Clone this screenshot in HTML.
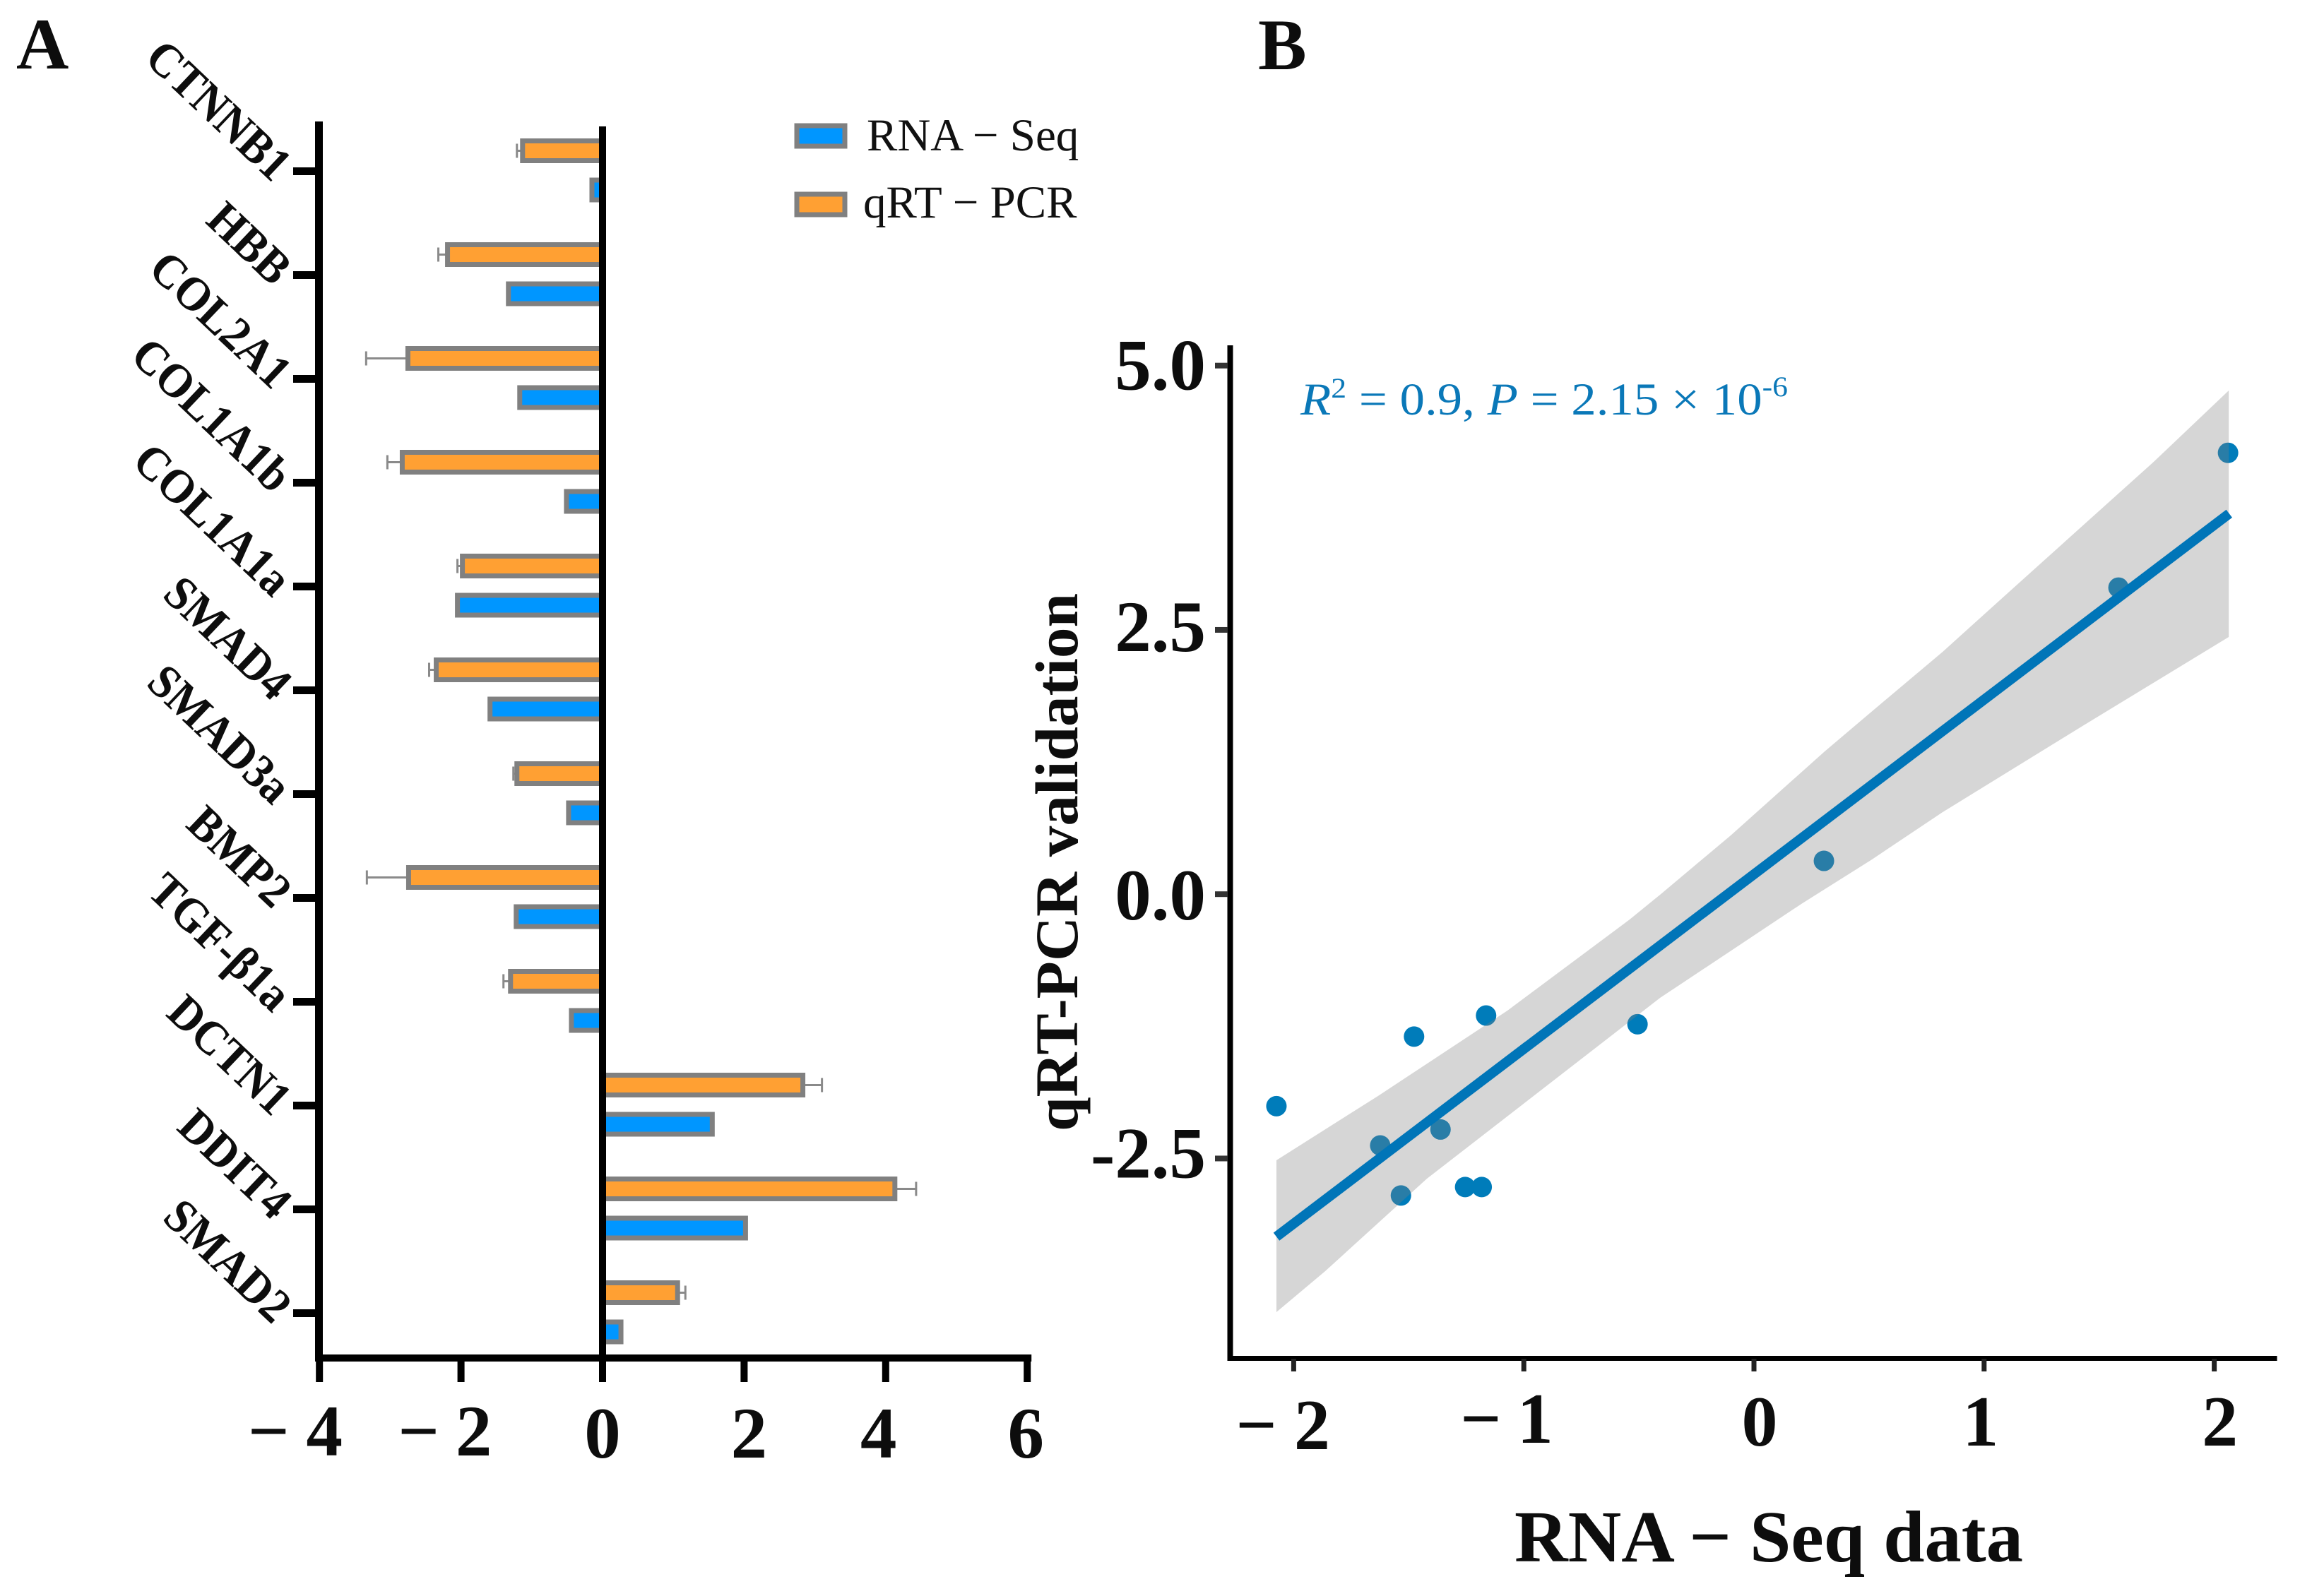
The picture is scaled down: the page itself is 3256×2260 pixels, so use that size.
<!DOCTYPE html>
<html lang="en">
<head>
<meta charset="utf-8">
<title>RNA-Seq and qRT-PCR validation</title>
<style>
html,body{margin:0;padding:0;background:#fff;width:3256px;height:2260px;overflow:hidden}
svg{display:block}
text{font-family:"Liberation Serif",serif}
.b{font-weight:700;fill:#0d0d0d}
</style>
</head>
<body>
<svg id="figure" xmlns="http://www.w3.org/2000/svg" width="3256" height="2260" viewBox="0 0 3256 2260">
  <rect width="3256" height="2260" fill="#fff"/>
  <text class="b" x="23" y="97" font-size="103">A</text>
  <text class="b" x="1781" y="98" font-size="103">B</text>

  <g>
    <rect x="1128" y="178" width="68" height="29" fill="#0096ff" stroke="#808080" stroke-width="7"/>
    <text x="1227" y="213" font-size="65" fill="#111">RNA − Seq</text>
    <rect x="1128" y="275" width="68" height="29" fill="#ffa033" stroke="#808080" stroke-width="7"/>
    <text x="1222" y="308" font-size="65" fill="#111">qRT − PCR</text>
  </g>

  <g id="panelA"></g>
  <g id="panelB"></g>

  <text x="1841" y="587" font-size="65" fill="#0a78b8" textLength="690" lengthAdjust="spacingAndGlyphs"><tspan font-style="italic">R</tspan><tspan dy="-24" font-size="40">2</tspan><tspan dy="24"> = 0.9, </tspan><tspan font-style="italic">P</tspan><tspan> = 2.15 × 10</tspan><tspan dy="-26" font-size="40">-6</tspan></text>
  <text class="b" transform="translate(1525,1602) rotate(-90)" font-size="86" textLength="762" lengthAdjust="spacingAndGlyphs">qRT-PCR validation</text>
  <text class="b" x="2144" y="2211" font-size="104" textLength="720" lengthAdjust="spacingAndGlyphs">RNA − Seq data</text>
</svg>
<script>
/* Panel A data */
const genes = ["CTNNB1","HBB","COL2A1","COL1A1b","COL1A1a","SMAD4","SMAD3a","BMP2","TGF-β1a","DCTN1","DDIT4","SMAD2"];
const rnaSeq = [-0.15,-1.33,-1.17,-0.51,-2.05,-1.59,-0.48,-1.22,-0.44,1.55,2.02,0.26];
const qrtPcr = [-1.13,-2.19,-2.75,-2.83,-1.98,-2.35,-1.21,-2.74,-1.30,2.83,4.13,1.06];
const qrtPcrErr = [0.08,0.13,0.59,0.21,0.07,0.10,0.05,0.59,0.10,0.27,0.30,0.11];
const barTicks = [-4,-2,0,2,4,6];

/* Panel B data */
const pointX = [2.06,1.584,0.304,-0.506,-1.164,-1.477,-2.075,-1.362,-1.624,-1.534,-1.255,-1.183];
const pointY = [4.175,2.90,0.315,-1.23,-1.148,-1.347,-2.005,-2.226,-2.377,-2.85,-2.77,-2.77];
const fitX = [-2.075,2.065];
const fitY = [-3.24,3.60];
const ribbonUpperX = [-2.075,-1.633,-1.071,-0.540,-0.408,-0.101,0.307,0.513,0.820,1.126,1.433,1.740,2.063];
const ribbonUpperY = [-2.517,-1.908,-1.101,-0.239,-0.005,0.556,1.350,1.730,2.293,2.894,3.495,4.096,4.764];
const ribbonLowerX = [-2.075,-1.863,-1.421,-0.408,0.206,0.513,0.820,1.433,2.063];
const ribbonLowerY = [-3.953,-3.566,-2.691,-0.981,-0.092,0.329,0.776,1.598,2.433];
const scatterXTicks = [-2,-1,0,1,2];
const scatterYTicks = [5,2.5,0,-2.5];

const NS = "http://www.w3.org/2000/svg";
function mk(parent, tag, attrs, txt){
  const e = document.createElementNS(NS, tag);
  for (const k in attrs) e.setAttribute(k, attrs[k]);
  if (txt !== undefined) e.textContent = txt;
  parent.appendChild(e);
  return e;
}
const A = document.getElementById("panelA");
const B = document.getElementById("panelB");

/* Panel A axes functions */
const ax = v => 853 + 100.2 * v;
const cy = i => 242.5 + 147 * i;

genes.forEach((g, i) => {
  const tick = mk(A, "rect", {x:415, y:cy(i)-5.5, width:35, height:11, fill:"#000"});
  
  
  const lab = mk(A, "text", {class:"b", "text-anchor":"end", "font-size":68, transform:"translate(386,"+(cy(i)+17)+") rotate(43.5) scale(0.93,1)", fill:"#000"}, g);
  
  

  const oy = cy(i) - 29, by = cy(i) + 26.5;
  const dir = qrtPcr[i] < 0 ? -1 : 1;
  const tip = ax(qrtPcr[i] + dir * qrtPcrErr[i]);
  const err = mk(A, "line", {x1:ax(qrtPcr[i]), x2:tip, y1:oy, y2:oy, stroke:"#8a8a8a", "stroke-width":3});
  
  
  const cap = mk(A, "line", {x1:tip, x2:tip, y1:oy-10, y2:oy+10, stroke:"#8a8a8a", "stroke-width":3});
  
  

  const x1 = Math.min(ax(qrtPcr[i]), ax(0)), w1 = Math.abs(ax(qrtPcr[i]) - ax(0));
  const ob = mk(A, "rect", {x:x1, y:oy-14, width:w1, height:28, fill:"#ffa033", stroke:"#808080", "stroke-width":7});
  
  
  const x2 = Math.min(ax(rnaSeq[i]), ax(0)), w2 = Math.abs(ax(rnaSeq[i]) - ax(0));
  const bb = mk(A, "rect", {x:x2, y:by-14, width:w2, height:28, fill:"#0096ff", stroke:"#808080", "stroke-width":7});
  
  
});

const leftAxis = mk(A, "rect", {x:446, y:172, width:11, height:1756, fill:"#000"});


const zeroAxis = mk(A, "rect", {x:ax(0)-5, y:179, width:10, height:1749, fill:"#000"});


const bottomAxis = mk(A, "rect", {x:ax(-4)-6, y:1918, width:ax(6)-ax(-4)+12, height:10, fill:"#000"});



function barDigitShift(t){
  if (t === -4) return 7;
  if (t === -2) return 18;
  if (t === 0) return 0;
  if (t === 2) return 7;
  if (t === 4) return -10;
  return -2;
}
barTicks.forEach(t => {
  const tk = mk(A, "rect", {x:ax(t)-5, y:1918, width:10, height:39, fill:"#000"});
  
  
  const lab = mk(A, "text", {class:"b", "font-size":103, y:t<0?2061:2064, "text-anchor":"middle"});
  
  
  if (t < 0) {
    mk(lab, "tspan", {x:ax(t)+(t===-4?-72:-60)}, "−");
    mk(lab, "tspan", {x:ax(t)+barDigitShift(t)}, String(Math.abs(t)));
  } else {
    lab.textContent = String(t);
    lab.setAttribute('x', ax(t) + barDigitShift(t));
  }
});

/* Panel B axes functions */
const sx = v => 2483 + 325.8 * v;
const sy = v => 1266.2 - 149.7 * v;

pointX.forEach((v, i) => {
  const c = mk(B, "circle", {cx:sx(v), cy:sy(pointY[i]), r:14.5, fill:"#007cba"});
  
  
});

const upperPts = ribbonUpperX.map((v, i) => sx(v) + "," + sy(ribbonUpperY[i]));
const lowerPts = ribbonLowerX.map((v, i) => sx(v) + "," + sy(ribbonLowerY[i])).reverse();
const ribbon = mk(B, "polygon", {points:upperPts.concat(lowerPts).join(" "), fill:"rgb(126,126,126)", "fill-opacity":0.32});



const fit = mk(B, "line", {x1:sx(fitX[0]), y1:sy(fitY[0]), x2:sx(fitX[1]), y2:sy(fitY[1]), stroke:"#0075b8", "stroke-width":14});



const yLine = mk(B, "rect", {x:1737.5, y:489, width:8, height:1438, fill:"#000"});


const xLine = mk(B, "rect", {x:1737.5, y:1920, width:1486, height:7, fill:"#000"});



scatterYTicks.forEach(t => {
  const tk = mk(B, "rect", {x:1720, y:sy(t)-4, width:18, height:8, fill:"#333"});
  
  
  const lab = mk(B, "text", {class:"b", "font-size":103, "text-anchor":"end", x:1707, y:sy(t)+(t===5?34:t===2.5?30:t===0?36:27)}, t.toFixed(1));
  
  
});

function scatterDigitShift(t){
  if (t === -2) return 26;
  if (t === -1) return 16;
  if (t === 1) return -5;
  return 8;
}
scatterXTicks.forEach(t => {
  const tk = mk(B, "rect", {x:sx(t)-3.5, y:1924, width:7, height:18, fill:"#222"});
  
  
  const lab = mk(B, "text", {class:"b", "font-size":102, "text-anchor":"middle", y:t===-2?2052:t===-1?2043:2047});
  
  
  if (t < 0) {
    mk(lab, "tspan", {x:sx(t)+(t===-2?-53:-61)}, "−");
    mk(lab, "tspan", {x:sx(t)+scatterDigitShift(t)}, String(Math.abs(t)));
  } else {
    lab.setAttribute('x', sx(t) + scatterDigitShift(t));
    lab.textContent = String(t);
  }
});
</script>
</body>
</html>
